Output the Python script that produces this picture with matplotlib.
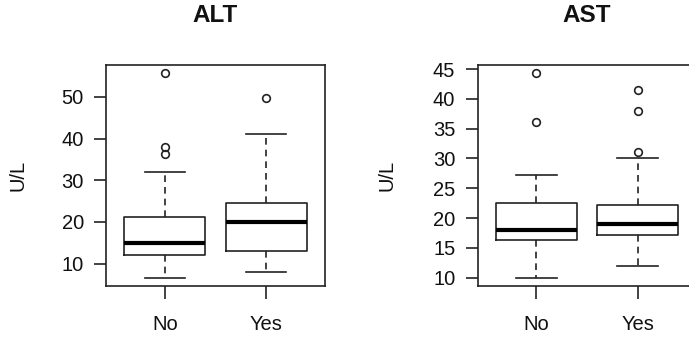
import matplotlib
matplotlib.use("Agg")
import matplotlib.pyplot as plt

plt.rcParams['font.family'] = ['Liberation Sans', 'DejaVu Sans']

groups = ["No", "Yes"]

# ALT (U/L) box statistics per group
alt_whislo = [6.6, 8.1]
alt_q1 = [12.0, 13.0]
alt_med = [15.0, 19.9]
alt_q3 = [21.2, 24.5]
alt_whishi = [32.1, 41.0]
alt_fliers = [[36.2, 38.0, 55.7], [49.7]]

# AST (U/L) box statistics per group
ast_whislo = [10.0, 12.0]
ast_q1 = [16.3, 17.1]
ast_med = [18.0, 19.0]
ast_q3 = [22.5, 22.2]
ast_whishi = [27.2, 30.0]
ast_fliers = [[36.1, 44.3], [31.1, 38.0, 41.4]]

alt_ticks = [10, 20, 30, 40, 50]
ast_ticks = [10, 15, 20, 25, 30, 35, 40, 45]

LC = "#222222"
FS = 14.5

fig = plt.figure(figsize=(6.89, 3.39), dpi=100)

def make_stats(lo, q1, med, q3, hi, fl):
    return [dict(whislo=lo[i], q1=q1[i], med=med[i], q3=q3[i], whishi=hi[i],
                 fliers=fl[i], label=groups[i]) for i in range(len(groups))]

def draw(ax, stats, ticks, title):
    ax.bxp(stats, positions=[1, 2], widths=0.8, capwidths=0.4,
           boxprops=dict(color=LC, linewidth=1.2),
           medianprops=dict(color="black", linewidth=3.0, solid_capstyle='butt'),
           whiskerprops=dict(color=LC, linewidth=1.2, linestyle=(0, (4, 3))),
           capprops=dict(color=LC, linewidth=1.2),
           flierprops=dict(marker='o', markerfacecolor='none', markeredgecolor=LC,
                           markersize=5.5, markeredgewidth=1.2))
    allv = [v for s in stats for v in [s['whislo'], s['whishi']] + list(s['fliers'])]
    lo, hi = min(allv), max(allv)
    r = hi - lo
    ax.set_ylim(lo - 0.04 * r, hi + 0.04 * r)
    ax.set_xlim(0.42, 2.58)
    ax.set_yticks(ticks)
    ax.set_xticks([1, 2])
    ax.set_xticklabels(groups)
    for sp in ax.spines.values():
        sp.set_color(LC)
        sp.set_linewidth(1.2)
    ax.tick_params(axis='y', length=9, width=1.2, color=LC, pad=7, labelsize=FS, labelcolor="#111111")
    ax.tick_params(axis='x', length=9, width=1.2, color=LC, pad=12, labelsize=FS, labelcolor="#111111")
    ax.set_ylabel("U/L", fontsize=FS, color="#111111")
    ax.text(0.5, 1.226, title, transform=ax.transAxes, ha='center', va='center',
            fontsize=17.5, fontweight='bold', color="#111111")

ax1 = fig.add_axes([106/689, 1 - 286/339, 219/689, 221/339])
draw(ax1, make_stats(alt_whislo, alt_q1, alt_med, alt_q3, alt_whishi, alt_fliers), alt_ticks, "ALT")
ax1.yaxis.set_label_coords(-0.36, 0.5)

ax2 = fig.add_axes([477.5/689, 1 - 286/339, 219/689, 221/339])
draw(ax2, make_stats(ast_whislo, ast_q1, ast_med, ast_q3, ast_whishi, ast_fliers), ast_ticks, "AST")
ax2.yaxis.set_label_coords(-0.368, 0.5)

fig.savefig("out.png", dpi=100)
